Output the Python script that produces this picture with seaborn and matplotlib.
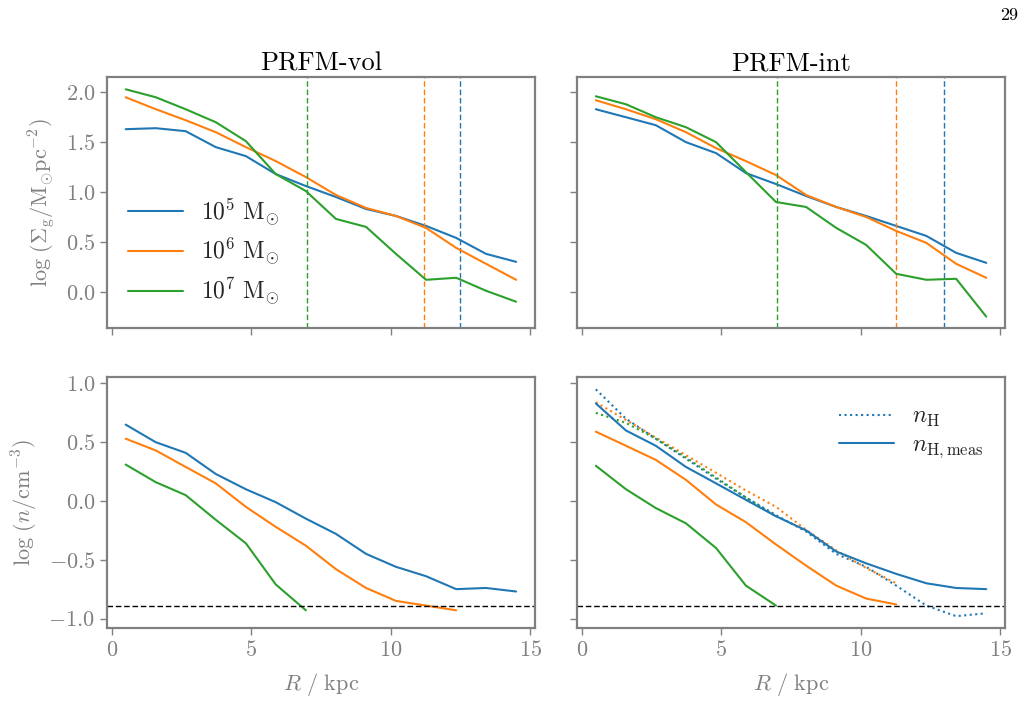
import numpy as np
import pandas as pd
import matplotlib
matplotlib.use("Agg")
import matplotlib.pyplot as plt
from matplotlib.ticker import FuncFormatter
import seaborn as sns
import warnings

warnings.simplefilter(action='ignore', category=UserWarning)

# radial bins (kpc)
R = [0.5, 1.58, 2.65, 3.73, 4.81, 5.88, 6.96, 8.04, 9.12, 10.19, 11.27, 12.35, 13.42, 14.5]

masses = ["1e5", "1e6", "1e7"]
mass_labels = [r"$10^5\ {\rm M}_{\odot}$", r"$10^6\ {\rm M}_{\odot}$", r"$10^7\ {\rm M}_{\odot}$"]

# log surface density, PRFM-vol
sig_vol_5 = [1.63, 1.64, 1.61, 1.45, 1.36, 1.18, 1.06, 0.95, 0.83, 0.76, 0.66, 0.54, 0.38, 0.30]
sig_vol_6 = [1.95, 1.83, 1.72, 1.60, 1.45, 1.31, 1.15, 0.97, 0.84, 0.76, 0.64, 0.44, 0.28, 0.12]
sig_vol_7 = [2.03, 1.95, 1.83, 1.70, 1.51, 1.18, 1.01, 0.73, 0.65, 0.38, 0.12, 0.14, 0.01, -0.10]
# log surface density, PRFM-int
sig_int_5 = [1.83, 1.75, 1.67, 1.50, 1.39, 1.19, 1.08, 0.96, 0.85, 0.76, 0.66, 0.56, 0.39, 0.29]
sig_int_6 = [1.92, 1.83, 1.73, 1.60, 1.44, 1.31, 1.17, 0.97, 0.85, 0.75, 0.61, 0.49, 0.28, 0.14]
sig_int_7 = [1.96, 1.88, 1.75, 1.65, 1.50, 1.20, 0.90, 0.85, 0.64, 0.47, 0.18, 0.12, 0.13, -0.25]

# log density, PRFM-vol
n_vol_5 = [0.65, 0.50, 0.41, 0.23, 0.10, -0.01, -0.15, -0.28, -0.45, -0.56, -0.64, -0.75, -0.74, -0.77]
n_vol_6 = [0.53, 0.43, 0.29, 0.15, -0.05, -0.22, -0.38, -0.58, -0.74, -0.85, -0.89, -0.93]
n_vol_7 = [0.31, 0.16, 0.05, -0.16, -0.36, -0.71, -0.93]
# log density, PRFM-int (measured, solid)
n_int_5 = [0.83, 0.60, 0.47, 0.29, 0.15, 0.01, -0.13, -0.25, -0.43, -0.53, -0.62, -0.70, -0.74, -0.75]
n_int_6 = [0.59, 0.47, 0.35, 0.18, -0.03, -0.18, -0.37, -0.55, -0.72, -0.83, -0.88]
n_int_7 = [0.30, 0.10, -0.06, -0.19, -0.40, -0.72, -0.89]
# log n_H, PRFM-int (dotted)
nH_int_5 = [0.95, 0.70, 0.53, 0.36, 0.19, 0.03, -0.12, -0.26, -0.45, -0.56, -0.72, -0.89, -0.98, -0.955]
nH_int_6 = [0.84, 0.69, 0.54, 0.39, 0.24, 0.09, -0.05, -0.245, -0.42, -0.57, -0.70]
nH_int_7 = [0.75, 0.665, 0.53, 0.37, 0.20, 0.03, -0.13]

# truncation radii (kpc)
rcut_vol = [12.5, 11.2, 7.0]
rcut_int = [13.0, 11.27, 7.0]
n_floor = -0.89

colors = sns.color_palette("tab10")[:3]
grey = "#808080"

sns.set_style("ticks")
plt.rcParams["font.family"] = ["cmr10", "DejaVu Serif"]
plt.rcParams["mathtext.fontset"] = "cm"
plt.rcParams["axes.unicode_minus"] = True
plt.rcParams["axes.formatter.use_mathtext"] = True


def mk(vals):
    return pd.DataFrame({"R": R[:len(vals)], "v": vals})


fig, axarr = plt.subplots(2, 2, figsize=(10.26, 7.26), dpi=100, sharex=True)
plt.subplots_adjust(left=0.1043, right=0.9795, top=0.8939, bottom=0.1346,
                    wspace=0.099, hspace=0.196)

panels = [
    (axarr[0, 0], [sig_vol_5, sig_vol_6, sig_vol_7], rcut_vol),
    (axarr[0, 1], [sig_int_5, sig_int_6, sig_int_7], rcut_int),
]
for ax, series, rcut in panels:
    for vals, c, lab, rc in zip(series, colors, mass_labels, rcut):
        sns.lineplot(data=mk(vals), x="R", y="v", ax=ax, color=c, linewidth=1.5, label=lab)
        ax.axvline(rc, color=c, linestyle="--", linewidth=1.0, dashes=(4, 2))

for vals, c in zip([n_vol_5, n_vol_6, n_vol_7], colors):
    sns.lineplot(data=mk(vals), x="R", y="v", ax=axarr[1, 0], color=c, linewidth=1.5)
for vals, c in zip([nH_int_5, nH_int_6, nH_int_7], colors):
    sns.lineplot(data=mk(vals), x="R", y="v", ax=axarr[1, 1], color=c, linewidth=1.5,
                 linestyle=":")
for vals, c in zip([n_int_5, n_int_6, n_int_7], colors):
    sns.lineplot(data=mk(vals), x="R", y="v", ax=axarr[1, 1], color=c, linewidth=1.5)
for ax in axarr[1]:
    ax.axhline(n_floor, color="black", linestyle="--", linewidth=1.0, dashes=(4, 2))

fmt_y = FuncFormatter(lambda v, p: r"$%.1f$" % v)
fmt_x = FuncFormatter(lambda v, p: r"$%d$" % v)

for i in range(2):
    for j in range(2):
        ax = axarr[i, j]
        ax.set_xlim(-0.17, 15.17)
        if i == 0:
            ax.set_ylim(-0.364, 2.153)
            ax.set_yticks([0.0, 0.5, 1.0, 1.5, 2.0])
        else:
            ax.set_ylim(-1.083, 1.053)
            ax.set_yticks([-1.0, -0.5, 0.0, 0.5, 1.0])
        ax.set_xticks([0, 5, 10, 15])
        ax.xaxis.set_major_formatter(fmt_x)
        ax.yaxis.set_major_formatter(fmt_y)
        for s in ax.spines.values():
            s.set_color(grey)
            s.set_linewidth(1.6)
        ax.tick_params(axis="both", colors=grey, labelcolor=grey, labelsize=16,
                       length=5, width=1.0, direction="out")
        ax.set_xlabel("")
        ax.set_ylabel("")
        if j == 1:
            ax.tick_params(axis="y", labelleft=False)
        if i == 0:
            ax.tick_params(axis="x", labelbottom=False)
        else:
            ax.set_xlabel(r"$R\ /\ {\rm kpc}$", fontsize=16, color=grey, labelpad=8)
        if ax.get_legend() is not None:
            ax.get_legend().remove()

axarr[0, 0].set_title("PRFM-vol", fontsize=19, color="black", pad=5)
axarr[0, 1].set_title("PRFM-int", fontsize=19, color="black", pad=5)
axarr[0, 0].set_ylabel(r"$\log\,(\Sigma_{\rm g}/{\rm M}_{\odot}{\rm pc}^{-2})$",
                       fontsize=16, color=grey, labelpad=6)
axarr[1, 0].set_ylabel(r"$\log\,(n/{\rm cm}^{-3})$", fontsize=16, color=grey, labelpad=6)

# mass legend
h, l = axarr[0, 0].get_legend_handles_labels()
h = [line for line in h if line.get_linestyle() == "-"][:3]
axarr[0, 0].legend(h, mass_labels, loc="lower left", bbox_to_anchor=(0.0, 0.0),
                   frameon=False, fontsize=17, handlelength=2.3, labelspacing=0.35,
                   handletextpad=0.8)

# density-type legend
dot_h = plt.Line2D([], [], color=colors[0], linestyle=":", linewidth=1.5)
sol_h = plt.Line2D([], [], color=colors[0], linestyle="-", linewidth=1.5)
axarr[1, 1].legend([dot_h, sol_h], [r"$n_{\rm H}$", r"$n_{\rm H,meas}$"], loc="upper right",
                   frameon=False, fontsize=17, handlelength=2.3, labelspacing=0.2,
                   handletextpad=0.8, bbox_to_anchor=(1.0, 0.97))

fig.text(0.992, 0.99, "29", fontsize=13, ha="right", va="top", color="black")

plt.savefig("out.png", dpi=100)
